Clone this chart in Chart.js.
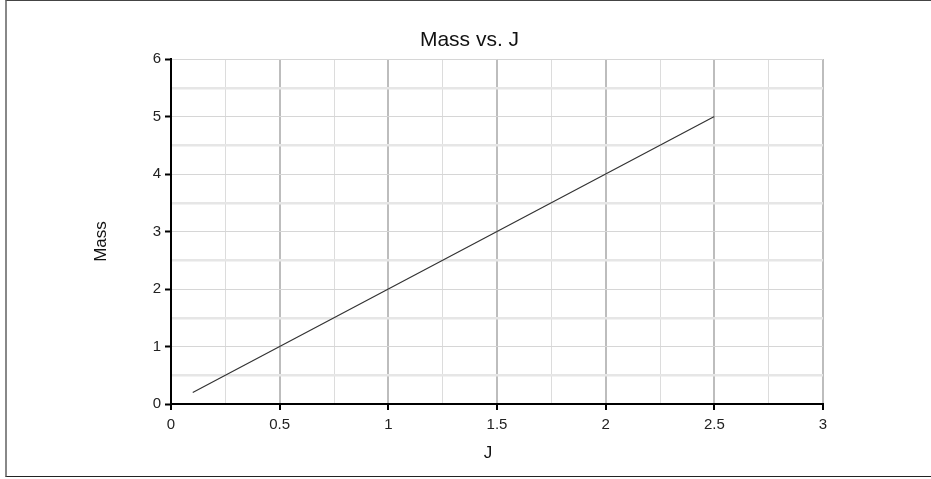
<!DOCTYPE html>
<html>
<head>
<meta charset="utf-8">
<script src="https://cdn.jsdelivr.net/npm/chart.js@4"></script>
<style>
    html, body { margin: 0; padding: 0; background: #fff; overflow: hidden; }
    #frame {
        position: absolute; left: 5px; top: 0; width: 940px; height: 475px;
        border-top: 1px solid #444; border-bottom: 1px solid #222; border-left: 2px solid #888;
    }
    #wrap { position: absolute; left: 0; top: 0; width: 931px; height: 479px; }
</style>
</head>
<body>
<div id="frame"></div>
<div id="wrap"><canvas id="massChart"></canvas></div>
<script>
// Values
const jValues = [0.1, 0.5, 1, 1.5, 2, 2.5];
const massValues = [0.2, 1, 2, 3, 4, 5];

const chartTitle = 'Mass vs. J';
const xTitle = 'J';
const yTitle = 'Mass';

const points = jValues.map((j, i) => ({ x: j, y: massValues[i] }));

const fontFamily = '"Liberation Sans", Arial, sans-serif';
const tickFont = { family: fontFamily, size: 15 };

// major ticks are every 0.5 on x, every 1 on y
function isMajor(value, step) {
    return Math.abs(value / step - Math.round(value / step)) < 1e-6;
}

// The titles in the original are centred on the figure, not on the plot,
// so they are drawn here instead of with the built-in title options
const figureTitles = {
    id: 'figureTitles',
    afterDraw(chart) {
        const c = chart.ctx;
        const w = chart.width;
        const area = chart.chartArea;
        c.save();
        c.fillStyle = '#111';
        c.textAlign = 'center';
        c.textBaseline = 'middle';

        c.font = '21px ' + fontFamily;
        c.fillText(chartTitle, w / 2 + 4, area.top - 19);

        c.font = '17px ' + fontFamily;
        c.fillText(xTitle, (area.left + area.right) / 2 - 9, area.bottom + 49);

        c.translate(101, chart.height / 2 + 2);
        c.rotate(-Math.PI / 2);
        c.fillText(yTitle, 0, 0);
        c.restore();
    }
};

new Chart(document.getElementById('massChart'), {
    type: 'scatter',
    data: {
        datasets: [{
            label: 'Mass',
            data: points,
            showLine: true,
            borderColor: '#333',
            borderWidth: 1.2,
            pointRadius: 0,
            fill: false
        }]
    },
    plugins: [figureTitles],
    options: {
        responsive: true,
        maintainAspectRatio: false,
        animation: false,
        layout: { padding: { left: 111, right: 108, top: 59, bottom: 35 } },
        plugins: {
            legend: { display: false },
            tooltip: { enabled: false },
            title: { display: false }
        },
        scales: {
            x: {
                type: 'linear',
                min: 0,
                max: 3,
                afterFit: s => { s.height = 40; },
                ticks: {
                    stepSize: 0.25,
                    color: '#222',
                    font: tickFont,
                    padding: 6,
                    maxRotation: 0,
                    autoSkip: false,
                    callback: v => isMajor(v, 0.5) ? String(v) : ''
                },
                grid: {
                    color: ctx => isMajor(ctx.tick.value, 0.5) ? '#bdbdbd' : '#dcdcdc',
                    lineWidth: ctx => isMajor(ctx.tick.value, 0.5) ? 2 : 1,
                    tickColor: ctx => isMajor(ctx.tick.value, 0.5) ? '#000' : 'rgba(0,0,0,0)',
                    tickWidth: 2,
                    tickLength: 6
                },
                border: { color: '#000', width: 2 }
            },
            y: {
                type: 'linear',
                min: 0,
                max: 6,
                afterFit: s => { s.width = 60; },
                ticks: {
                    stepSize: 0.5,
                    color: '#222',
                    font: tickFont,
                    padding: 4,
                    autoSkip: false,
                    callback: v => isMajor(v, 1) ? String(v) : ''
                },
                grid: {
                    color: ctx => isMajor(ctx.tick.value, 1) ? '#d6d6d6' : '#e6e6e6',
                    lineWidth: ctx => isMajor(ctx.tick.value, 1) ? 1 : 2.5,
                    tickColor: ctx => isMajor(ctx.tick.value, 1) ? '#000' : 'rgba(0,0,0,0)',
                    tickWidth: 2,
                    tickLength: 6
                },
                border: { color: '#000', width: 2 }
            }
        }
    }
});
</script>
</body>
</html>
